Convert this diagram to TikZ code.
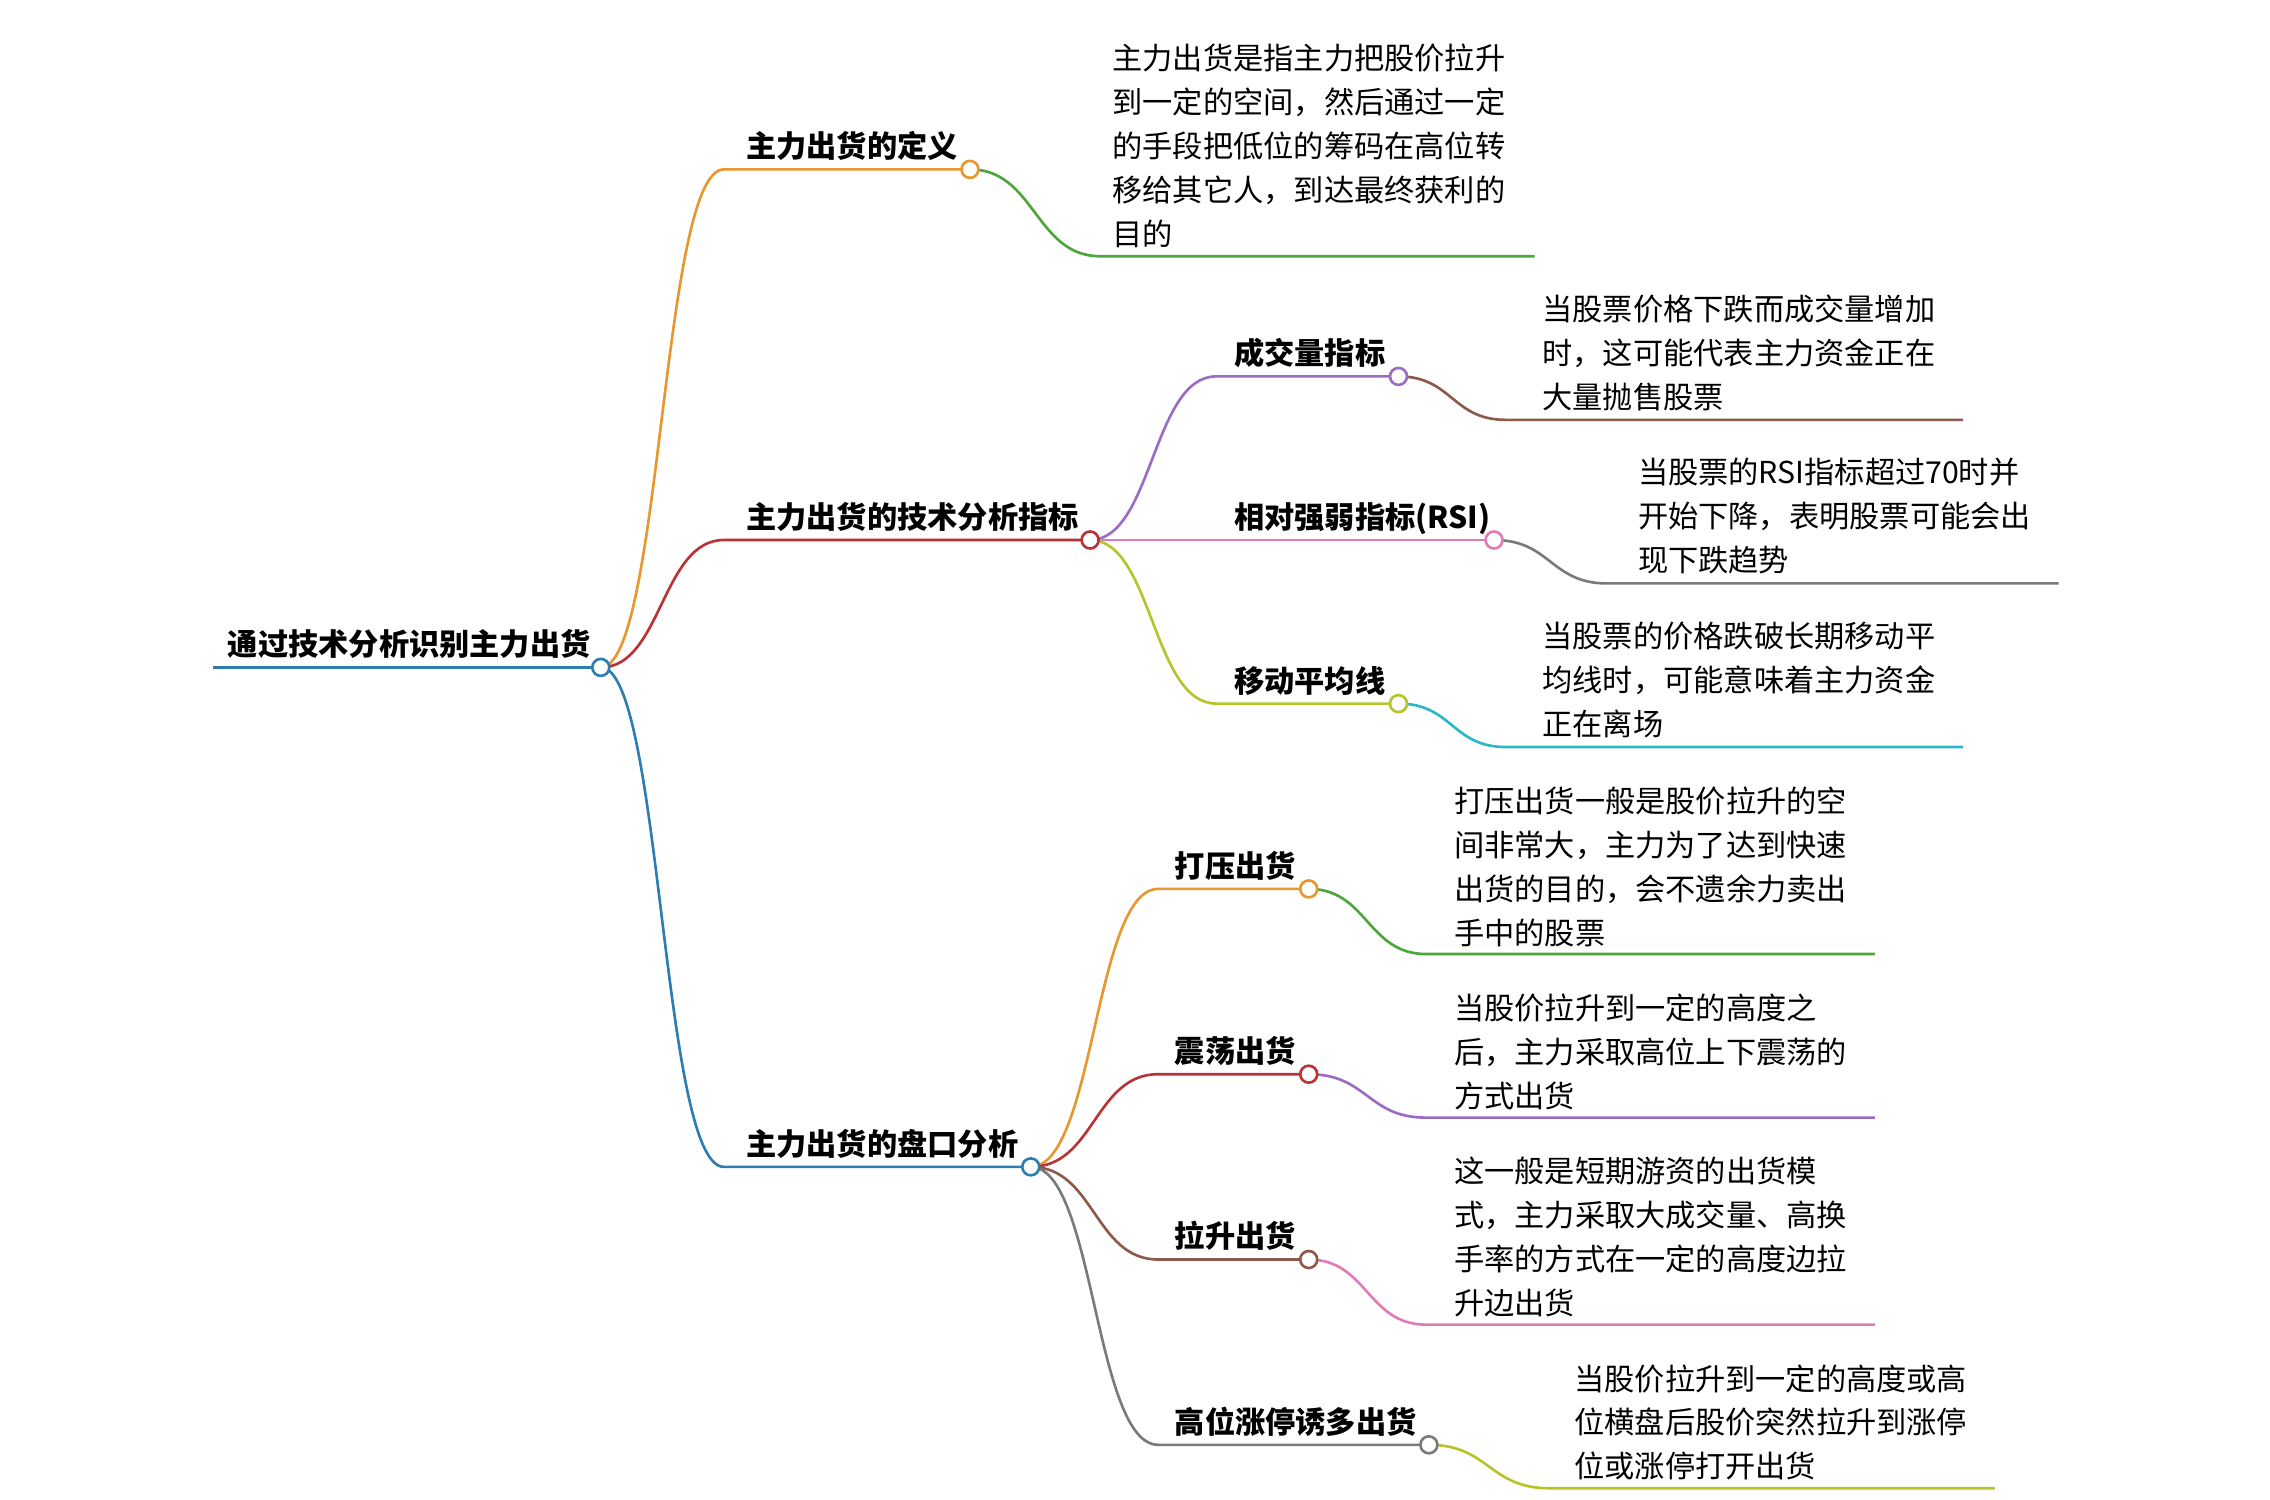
\documentclass[tikz,border=0pt]{standalone}
\usepackage{fontspec}
\setmainfont{Noto Sans CJK SC}
\begin{document}
\begin{tikzpicture}[x=0.014477cm,y=-0.014477cm,
 ln/.style={line width=0.75pt},
 dot/.style={circle,draw,fill=white,line width=0.75pt,inner sep=0pt,minimum size=0.17cm},
 lbl/.style={font=\fontsize{8.6pt}{12pt}\selectfont\bfseries,anchor=base west,inner sep=0pt},
 txt/.style={font=\fontsize{8.6pt}{12.5pt}\selectfont,anchor=north west,inner sep=0pt,align=left}]
\definecolor{cor}{HTML}{E8962E}\definecolor{cgr}{HTML}{4CA63A}\definecolor{cre}{HTML}{B83236}
\definecolor{cpu}{HTML}{9B6BC4}\definecolor{cbr}{HTML}{8B5A4A}\definecolor{cpi}{HTML}{E07BB8}
\definecolor{cgy}{HTML}{7A7A7A}\definecolor{cyg}{HTML}{B5C42A}\definecolor{ccy}{HTML}{2AB8C8}
\definecolor{cbl}{HTML}{2E7DB0}
\useasboundingbox (0,0) rectangle (1568,1036);
\coordinate (r0) at (147,461); \coordinate (r) at (415,461);
\draw[ln,cbl] (r0)--(r);
\node[lbl] (rl) at (157,453) {通过技术分析识别主力出货};
% level 1
\foreach \n/\y/\e/\c/\t in {a/117/670/cor/主力出货的定义,b/373/753/cre/主力出货的技术分析指标,c/806/712/cbl/主力出货的盘口分析}{
 \coordinate (\n s) at (500,\y); \coordinate (\n) at (\e,\y);
 \draw[ln,\c] (r) .. controls (457,461) and (457,\y) .. (\n s) -- (\n);
 \node[lbl] (\n l) at (515,\y-8) {\t};
}
\node[dot,draw=cbl] at (r) {};
% def child
\coordinate (a1) at (760,177); \coordinate (a2) at (1060,177);
\draw[ln,cgr] (a) .. controls (715,117) and (715,177) .. (a1) -- (a2);
\node[txt] (at) at (768,30) {主力出货是指主力把股价拉升\\到一定的空间，然后通过一定\\的手段把低位的筹码在高位转\\移给其它人，到达最终获利的\\目的};
\node[dot,draw=cor] at (a) {};
% b children
\foreach \n/\y/\e/\c/\cc/\ex/\ee/\tx/\t in {
 b1/260/966/cpu/cbr/1040/1356/1065/{当股票价格下跌而成交量增加\\时，这可能代表主力资金正在\\大量抛售股票},
 b2/373/1032/cpi/cgy/1110/1422/1131/{当股票的RSI指标超过70时并\\开始下降，表明股票可能会出\\现下跌趋势},
 b3/486/966/cyg/ccy/1040/1356/1065/{当股票的价格跌破长期移动平\\均线时，可能意味着主力资金\\正在离场}}{
 \coordinate (\n s) at (840,\y); \coordinate (\n) at (\e,\y);
 \draw[ln,\c] (b) .. controls (796,373) and (796,\y) .. (\n s) -- (\n);
 \coordinate (\n x) at (\ex,\y+30); \coordinate (\n e) at (\ee,\y+30);
 \draw[ln,\cc] (\n) .. controls ({(\e+\ex)/2},\y) and ({(\e+\ex)/2},\y+30) .. (\n x) -- (\n e);
 \node[txt] (\n t) at (\tx,\y-57) {\t};
 \node[dot,draw=\c] at (\n) {};
}
\node[lbl] at (852,252) {成交量指标};
\node[lbl] at (852,365) {相对强弱指标(RSI)};
\node[lbl] at (852,478) {移动平均线};
\node[dot,draw=cre] at (b) {};
% c children
\foreach \n/\y/\e/\c/\cc/\ex/\ee/\dy in {
 c1/614/904/cor/cgr/985/1295/45,
 c2/742/904/cre/cpu/985/1295/30,
 c3/870/904/cbr/cpi/985/1295/45,
 c4/998/987/cgy/cyg/1070/1378/30}{
 \coordinate (\n s) at (800,\y); \coordinate (\n) at (\e,\y);
 \draw[ln,\c] (c) .. controls (756,806) and (756,\y) .. (\n s) -- (\n);
 \coordinate (\n x) at (\ex,\y+\dy); \coordinate (\n e) at (\ee,\y+\dy);
 \draw[ln,\cc] (\n) .. controls ({(\e+\ex)/2},\y) and ({(\e+\ex)/2},\y+\dy) .. (\n x) -- (\n e);
 \node[dot,draw=\c] at (\n) {};
}
\node[txt] (c1t) at (1004,543) {打压出货一般是股价拉升的空\\间非常大，主力为了达到快速\\出货的目的，会不遗余力卖出\\手中的股票};
\node[txt] (c2t) at (1004,686) {当股价拉升到一定的高度之\\后，主力采取高位上下震荡的\\方式出货};
\node[txt] (c3t) at (1004,799) {这一般是短期游资的出货模\\式，主力采取大成交量、高换\\手率的方式在一定的高度边拉\\升边出货};
\node[txt] (c4t) at (1087,942) {当股价拉升到一定的高度或高\\位横盘后股价突然拉升到涨停\\位或涨停打开出货};
\node[lbl] at (811,606) {打压出货};
\node[lbl] at (811,734) {震荡出货};
\node[lbl] at (811,862) {拉升出货};
\node[lbl] at (811,990) {高位涨停诱多出货};
\node[dot,draw=cbl] at (c) {};
\end{tikzpicture}
\end{document}
